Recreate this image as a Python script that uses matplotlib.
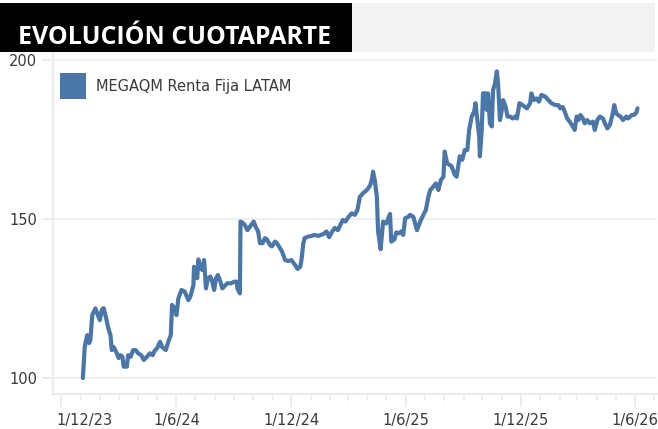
import numpy as np
import pandas as pd
import matplotlib
matplotlib.use("Agg")
import matplotlib.pyplot as plt
import matplotlib.transforms as mtransforms
from matplotlib.patches import Rectangle, Patch

title = "EVOLUCIÓN CUOTAPARTE"
series_name = "MEGAQM Renta Fija LATAM"

dates = [
    "2024-01-04", "2024-01-07", "2024-01-11", "2024-01-14", "2024-01-16", "2024-01-19", "2024-01-24", "2024-01-28", "2024-01-31", "2024-02-03",
    "2024-02-06", "2024-02-10", "2024-02-13", "2024-02-17", "2024-02-19", "2024-02-22", "2024-02-27", "2024-03-01", "2024-03-04", "2024-03-07",
    "2024-03-09", "2024-03-14", "2024-03-16", "2024-03-20", "2024-03-24", "2024-03-28", "2024-04-01", "2024-04-06", "2024-04-10", "2024-04-15",
    "2024-04-20", "2024-04-24", "2024-04-28", "2024-05-01", "2024-05-06", "2024-05-09", "2024-05-15", "2024-05-19", "2024-05-23", "2024-05-25",
    "2024-05-29", "2024-06-01", "2024-06-04", "2024-06-09", "2024-06-14", "2024-06-20", "2024-06-23", "2024-06-28", "2024-06-29", "2024-07-02",
    "2024-07-04", "2024-07-06", "2024-07-09", "2024-07-12", "2024-07-15", "2024-07-18", "2024-07-21", "2024-07-25", "2024-07-28", "2024-07-31",
    "2024-08-03", "2024-08-06", "2024-08-10", "2024-08-13", "2024-08-18", "2024-08-21", "2024-08-27", "2024-09-01", "2024-09-05", "2024-09-06",
    "2024-09-10", "2024-09-11", "2024-09-14", "2024-09-18", "2024-09-22", "2024-09-26", "2024-10-02", "2024-10-05", "2024-10-09", "2024-10-12",
    "2024-10-16", "2024-10-20", "2024-10-23", "2024-10-28", "2024-10-31", "2024-11-05", "2024-11-08", "2024-11-13", "2024-11-16", "2024-11-21",
    "2024-11-26", "2024-12-01", "2024-12-07", "2024-12-11", "2024-12-15", "2024-12-17", "2024-12-20", "2024-12-22", "2024-12-28", "2025-01-02",
    "2025-01-07", "2025-01-13", "2025-01-21", "2025-01-26", "2025-01-30", "2025-02-03", "2025-02-08", "2025-02-13", "2025-02-18", "2025-02-21",
    "2025-02-25", "2025-03-02", "2025-03-07", "2025-03-12", "2025-03-16", "2025-03-20", "2025-03-25", "2025-03-31", "2025-04-05", "2025-04-08",
    "2025-04-10", "2025-04-13", "2025-04-16", "2025-04-18", "2025-04-22", "2025-04-26", "2025-05-01", "2025-05-07", "2025-05-09", "2025-05-14",
    "2025-05-17", "2025-05-21", "2025-05-25", "2025-05-28", "2025-05-31", "2025-06-05", "2025-06-08", "2025-06-13", "2025-06-19", "2025-06-24",
    "2025-06-29", "2025-07-03", "2025-07-07", "2025-07-10", "2025-07-15", "2025-07-19", "2025-07-23", "2025-07-27", "2025-07-31", "2025-08-02",
    "2025-08-06", "2025-08-13", "2025-08-18", "2025-08-21", "2025-08-26", "2025-08-30", "2025-09-03", "2025-09-07", "2025-09-10", "2025-09-14",
    "2025-09-18", "2025-09-20", "2025-09-23", "2025-09-26", "2025-09-27", "2025-09-30", "2025-10-02", "2025-10-06", "2025-10-08", "2025-10-10",
    "2025-10-13", "2025-10-16", "2025-10-18", "2025-10-21", "2025-10-24", "2025-10-26", "2025-10-29", "2025-11-01", "2025-11-03", "2025-11-07",
    "2025-11-10", "2025-11-14", "2025-11-18", "2025-11-22", "2025-11-25", "2025-11-29", "2025-12-04", "2025-12-11", "2025-12-16", "2025-12-18",
    "2025-12-22", "2025-12-26", "2025-12-30", "2026-01-03", "2026-01-09", "2026-01-14", "2026-01-19", "2026-01-25", "2026-01-30", "2026-02-02",
    "2026-02-06", "2026-02-09", "2026-02-13", "2026-02-17", "2026-02-22", "2026-02-25", "2026-02-28", "2026-03-03", "2026-03-06", "2026-03-10",
    "2026-03-13", "2026-03-17", "2026-03-21", "2026-03-26", "2026-03-29", "2026-04-02", "2026-04-06", "2026-04-11", "2026-04-14", "2026-04-18",
    "2026-04-22", "2026-04-26", "2026-04-29", "2026-05-02", "2026-05-05", "2026-05-09", "2026-05-13", "2026-05-18", "2026-05-21", "2026-05-27",
    "2026-05-30", "2026-06-03", "2026-06-05",
]

values = [
    100.0, 109.8, 113.5, 111.0, 112.0, 119.8, 121.9, 119.8, 118.2, 121.4,
    122.0, 118.9, 116.1, 113.5, 108.8, 109.8, 107.8, 106.3, 107.2, 106.7,
    103.6, 103.6, 107.2, 106.7, 108.8, 108.8, 107.8, 107.2, 105.7, 106.7,
    107.8, 107.2, 108.8, 109.3, 111.4, 109.8, 108.8, 111.4, 113.5, 123.0,
    121.9, 119.8, 125.0, 127.7, 127.2, 124.5, 125.6, 129.2, 135.0, 134.0,
    131.4, 137.3, 134.5, 134.0, 137.1, 128.2, 131.4, 131.9, 130.3, 127.7,
    131.4, 132.4, 130.3, 128.2, 129.2, 129.8, 129.8, 130.3, 130.3, 128.2,
    126.6, 149.2, 148.9, 148.1, 146.5, 147.6, 149.2, 147.6, 146.1, 142.4,
    142.4, 144.0, 143.6, 141.8, 141.4, 142.9, 142.4, 140.8, 139.8, 137.1,
    136.8, 137.1, 135.5, 134.3, 135.0, 137.1, 142.4, 144.0, 144.5, 144.7,
    145.0, 144.7, 145.3, 146.1, 144.3, 145.8, 147.2, 146.5, 148.6, 149.7,
    149.2, 150.7, 151.8, 151.3, 152.8, 157.0, 158.1, 159.1, 160.4, 162.3,
    164.9, 161.8, 157.0, 146.1, 140.5, 149.2, 148.6, 151.6, 142.9, 143.6,
    145.8, 145.5, 146.1, 145.0, 150.2, 150.7, 151.3, 150.7, 146.5, 149.2,
    151.3, 152.8, 157.0, 159.1, 160.2, 161.2, 159.1, 162.3, 163.3, 171.2,
    167.5, 166.6, 163.9, 163.3, 169.7, 168.6, 171.7, 171.7, 178.0, 182.2,
    183.8, 186.4, 181.1, 175.9, 169.7, 178.0, 189.5, 189.5, 184.3, 189.5,
    180.1, 179.1, 190.5, 192.6, 196.4, 192.6, 181.1, 184.3, 187.4, 185.3,
    182.2, 182.2, 181.6, 182.2, 181.6, 186.4, 185.8, 184.8, 186.4, 189.5,
    187.4, 187.9, 186.9, 189.0, 188.5, 187.4, 186.4, 185.8, 185.8, 184.8,
    185.2, 183.8, 181.6, 180.6, 179.1, 178.0, 182.2, 181.1, 182.7, 181.6,
    180.1, 181.1, 180.1, 180.6, 178.0, 181.1, 182.2, 181.6, 180.1, 178.5,
    179.6, 182.7, 185.8, 183.2, 182.7, 182.2, 181.1, 182.2, 181.6, 182.7,
    182.7, 183.4, 184.8,
]

x_tick_dates = ["2023-12-01", "2024-06-01", "2024-12-01", "2025-06-01", "2025-12-01", "2026-06-01"]
x_tick_labels = ["1/12/23", "1/6/24", "1/12/24", "1/6/25", "1/12/25", "1/6/26"]
y_ticks = [100, 150, 200]

line_color = "#4a76a8"
axis_grey = "#ececec"
text_grey = "#3a3a3a"

x = pd.to_datetime(dates)

fig = plt.figure(figsize=(6.58, 4.29), dpi=100)
ax = fig.add_axes([52.7 / 658, 35 / 429, (657 - 52.7) / 658, (394 - 52) / 429])

ax.plot(x, values, color=line_color, lw=3, solid_joinstyle="round", solid_capstyle="round")

ax.set_xlim(pd.Timestamp("2023-11-17"), pd.Timestamp("2026-07-06"))
ax.set_ylim(95, 202.5)
ax.set_yticks(y_ticks)

# grid + spines
ax.grid(axis="y", color="#f0f0f0", lw=1.6)
ax.set_axisbelow(True)
for s in ["top", "right"]:
    ax.spines[s].set_visible(False)
for s in ["left", "bottom"]:
    ax.spines[s].set_color(axis_grey)
    ax.spines[s].set_linewidth(1.6)

ax.set_xticks(pd.to_datetime(x_tick_dates), x_tick_labels)
ax.set_xticks(pd.date_range("2023-12-01", "2026-07-01", freq="MS"), minor=True)

ax.tick_params(axis="x", which="major", length=9, width=1.4, color=axis_grey,
               labelsize=10.5, labelcolor=text_grey, pad=5)
ax.tick_params(axis="x", which="minor", length=5, width=1.2, color=axis_grey)
ax.tick_params(axis="y", length=8, width=1.4, color=axis_grey,
               labelsize=10.5, labelcolor=text_grey, pad=3)

# first date label sits to the right of its tick, like the original
first = ax.get_xticklabels()[0]
first.set_ha("left")
first.set_transform(mtransforms.offset_copy(first.get_transform(), fig=fig, x=-5, y=0, units="dots"))

leg = ax.legend(handles=[Patch(facecolor=line_color, edgecolor="none", label=series_name)],
                loc="upper left", bbox_to_anchor=((60 - 5.8) / 658, (429 - 67.5) / 429),
                bbox_transform=fig.transFigure, frameon=False,
                handlelength=1.78, handleheight=2.36, handletextpad=0.67,
                borderaxespad=0, borderpad=0.4, fontsize=10.5)
for t in leg.get_texts():
    t.set_color(text_grey)

# header band
fig.add_artist(Rectangle((352 / 658, 376.7 / 429), (655 - 352) / 658, 49.6 / 429,
                         transform=fig.transFigure, facecolor="#f2f2f2", edgecolor="none"))
fig.add_artist(Rectangle((0, 376.7 / 429), 352 / 658, 49.6 / 429,
                         transform=fig.transFigure, facecolor="black", edgecolor="none"))
fig.text(18 / 658, (429 - 44.3) / 429, title, color="white", fontsize=17.9,
         fontweight="bold", family="Open Sans", va="baseline", ha="left")

plt.savefig("out.png", dpi=100)
